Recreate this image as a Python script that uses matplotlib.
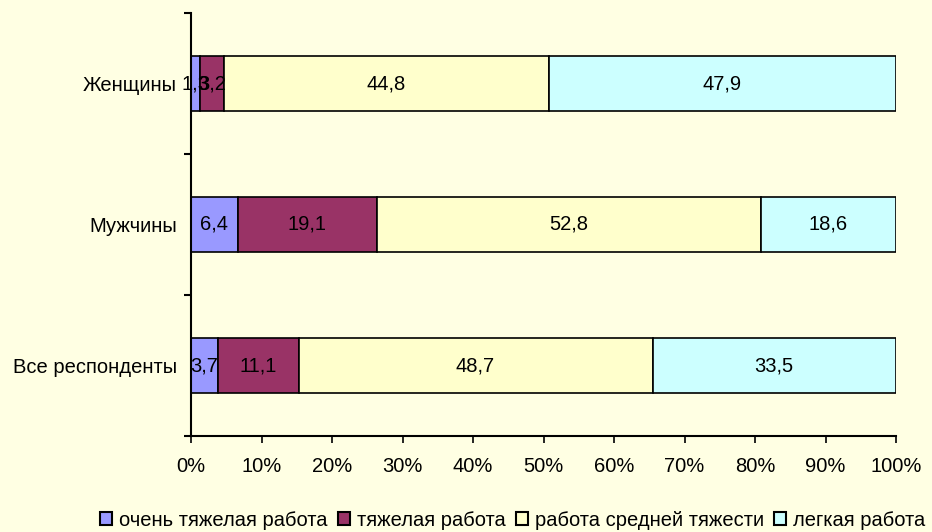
import matplotlib
matplotlib.use("Agg")
import matplotlib.pyplot as plt
import numpy as np
from matplotlib.ticker import PercentFormatter

plt.rcParams['font.family'] = ['Liberation Sans', 'DejaVu Sans']

categories = ["Все респонденты", "Мужчины", "Женщины"]
series_names = ["очень тяжелая работа", "тяжелая работа", "работа средней тяжести", "легкая работа"]
very_heavy = [3.7, 6.4, 1.3]
heavy = [11.1, 19.1, 3.2]
medium = [48.7, 52.8, 44.8]
light = [33.5, 18.6, 47.9]
colors = ["#9999FF", "#993366", "#FFFFCC", "#CCFFFF"]
xticks = [0, 10, 20, 30, 40, 50, 60, 70, 80, 90, 100]

fs = 14.5
bg = "#FFFFE3"
fig = plt.figure(figsize=(9.32, 5.32), dpi=100, facecolor=bg)
ax = fig.add_axes([191/932, 1-436/532, (896-191)/932, (436-13)/532])
ax.set_facecolor(bg)

data = np.array([very_heavy, heavy, medium, light])
totals = data.sum(axis=0)
y = np.arange(len(categories))
left = np.zeros(len(categories))
for vals, name, c in zip(data, series_names, colors):
    pct = vals / totals * 100
    bars = ax.barh(y, pct, left=left, height=0.39, color=c, edgecolor="black",
                   linewidth=1.2, label=name)
    for b, v in zip(bars, vals):
        ax.text(b.get_x() + b.get_width()/2, b.get_y() + b.get_height()/2,
                f"{v:.1f}".replace(".", ","), ha="center", va="center",
                fontsize=fs, color="black")
    left += pct

ax.set_xlim(0, 100)
ax.set_ylim(-0.5, 2.5)
ax.set_xticks(xticks)
ax.xaxis.set_major_formatter(PercentFormatter(decimals=0))
ax.set_yticks(y)
ax.set_yticklabels(categories)
ax.set_yticks([-0.5, 0.5, 1.5, 2.5], minor=True)
ax.tick_params(axis='y', which='major', length=0, pad=10, labelsize=fs)
ax.tick_params(axis='y', which='minor', length=5, width=1.5, direction='out')
ax.tick_params(axis='x', length=5, width=1.2, direction='out', labelsize=fs, pad=10)
for s in ["top", "right"]:
    ax.spines[s].set_visible(False)
for s in ["left", "bottom"]:
    ax.spines[s].set_linewidth(1.5)

leg = fig.legend(loc="lower center", bbox_to_anchor=(0.55, -0.03), ncol=4, frameon=False,
                 fontsize=fs, handlelength=0.6, handleheight=0.6, handletextpad=0.35,
                 columnspacing=0.5)
for h in leg.legend_handles:
    h.set_edgecolor("black")
    h.set_linewidth(1.5)

fig.savefig("out.png", dpi=100, facecolor=bg)
